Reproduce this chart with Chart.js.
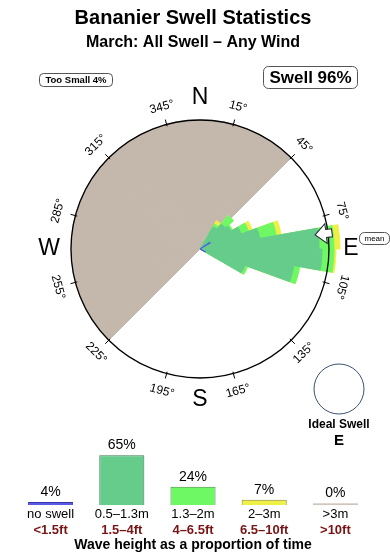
<!DOCTYPE html>
<html>
<head>
<meta charset="utf-8">
<script src="https://cdn.jsdelivr.net/npm/chart.js@4.4.1/dist/chart.umd.min.js"></script>
<style>
  html, body { margin: 0; padding: 0; background: #fff; }
  #wrap { position: relative; width: 390px; height: 560px; }
  #wrap canvas { position: absolute; left: 0; top: 0; }
</style>
</head>
<body>
<div id="wrap">
  <canvas id="roseCanvas" width="390" height="560"></canvas>
  <canvas id="heightCanvas" width="390" height="560"></canvas>
</div>
<script>
var FONT = '"Liberation Sans", Arial, Helvetica, sans-serif';

// swell rose: start bearing of each 10 deg bin, lengths per height band
var binStart   = [30, 40, 50, 60, 70, 80, 90, 100, 110];
var swellSmall = [2.6, 3.3, 3.6, 4.4, 6.1, 12.0, 12.3, 9.6, 4.8]; // 0.5-1.3m
var swellMid   = [0.3, 1.1, 0.2, 0.8, 1.7, 1.5, 1.2, 0.6, 0.3];   // 1.3-2m
var swellBig   = [0.4, 0, 0, 0.4, 0.5, 0.6, 0.2, 0, 0];           // 2-3m
var noSwellStart = [55, 115];
var noSwell      = [1.2, 0.6];
var shadowFrom = 225, shadowTo = 45;   // blocked directions
var roseMax = 13;
var meanDir = 83;

var degreeTicks = [15, 45, 75, 105, 135, 165, 195, 225, 255, 285, 315, 345];
var compassPts = ['N', 'E', 'S', 'W'];
var compassDeg = [0, 90, 180, 270];

// wave height bands
var heightCats = ['no swell', '0.5–1.3m', '1.3–2m', '2–3m', '>3m'];
var heightFeet = ['<1.5ft', '1.5–4ft', '4–6.5ft', '6.5–10ft', '>10ft'];
var heightPct  = [4, 65, 24, 7, 0];

var BLUE = '#5a5ae6', GREEN = '#66cc8c', LGREEN = '#6ef864', YELLOW = '#eef046', GREY = '#c4b8ad';

// build 5 deg bins for the polar area chart
var binDeg = 5, nBins = 360 / binDeg;
var binLabels = [];
for (var i = 0; i < nBins; i++) binLabels.push(i * binDeg + '°');

function spread(starts, values, width) {
  var out = new Array(nBins).fill(0);
  starts.forEach(function (s, k) {
    for (var d = s; d < s + width; d += binDeg) out[(d / binDeg) % nBins] = values[k];
  });
  return out;
}
var cumMid = binStart.map(function (s, k) { return swellSmall[k] + swellMid[k]; });
var cumBig = binStart.map(function (s, k) { return swellSmall[k] + swellMid[k] + swellBig[k]; });
var layerSmall = spread(binStart, swellSmall, 10);
var layerMid = spread(binStart, cumMid, 10);
var layerBig = spread(binStart, cumBig, 10);
var layerNone = spread(noSwellStart, noSwell, 5);
var layerShadow = binLabels.map(function (l, k) {
  var b = k * binDeg;
  return (b >= shadowFrom || b < shadowTo) ? roseMax : 0;
});

function roundBox(ctx, x, y, w, h, rad) {
  ctx.beginPath();
  ctx.roundRect(x, y, w, h, rad);
  ctx.fillStyle = '#fff';
  ctx.fill();
  ctx.strokeStyle = '#555';
  ctx.lineWidth = 1;
  ctx.stroke();
}

var compassPlugin = {
  id: 'compass',
  afterDraw: function (chart) {
    var ctx = chart.ctx, sc = chart.scales.r;
    var cx = sc.xCenter, cy = sc.yCenter, R = sc.drawingArea;
    function at(b, d) {
      var a = b * Math.PI / 180;
      return [cx + d * Math.sin(a), cy - d * Math.cos(a)];
    }
    ctx.save();
    ctx.fillStyle = '#000';
    ctx.strokeStyle = '#000';
    ctx.lineWidth = 1;
    ctx.textAlign = 'center';
    ctx.textBaseline = 'middle';

    degreeTicks.forEach(function (b) {
      var p0 = at(b, R - 2), p1 = at(b, R + 5);
      ctx.beginPath(); ctx.moveTo(p0[0], p0[1]); ctx.lineTo(p1[0], p1[1]); ctx.stroke();
      var rot = b;
      if (b > 120 && b < 270) rot = b - 180; else if (b >= 270) rot = b - 360;
      var p = at(b, R + 18);
      ctx.save();
      ctx.translate(p[0], p[1]);
      ctx.rotate(rot * Math.PI / 180);
      ctx.font = '12px ' + FONT;
      ctx.fillText(b + '°', 0, 0);
      ctx.restore();
    });

    ctx.font = '23px ' + FONT;
    compassPts.forEach(function (t, k) {
      var p = at(compassDeg[k], R + 22);
      ctx.fillText(t, p[0], p[1]);
    });

    // mean direction arrow
    ctx.save();
    ctx.translate(cx, cy);
    ctx.rotate((meanDir - 90) * Math.PI / 180);
    ctx.beginPath();
    ctx.moveTo(R - 13, 0);
    ctx.lineTo(R - 2, -10);
    ctx.lineTo(R - 2, -4);
    ctx.lineTo(R + 4, -4);
    ctx.lineTo(R + 4, 4);
    ctx.lineTo(R - 2, 4);
    ctx.lineTo(R - 2, 10);
    ctx.closePath();
    ctx.fillStyle = '#fff';
    ctx.fill();
    ctx.strokeStyle = '#223';
    ctx.stroke();
    ctx.restore();

    // labels in boxes
    roundBox(ctx, 359.5, 232.5, 30, 12, 5);
    ctx.fillStyle = '#000';
    ctx.font = '8px ' + FONT;
    ctx.fillText('mean', 374.5, 238.8);

    roundBox(ctx, 39.5, 73.5, 73, 13, 4);
    ctx.fillStyle = '#000';
    ctx.font = 'bold 9.5px ' + FONT;
    ctx.fillText('Too Small 4%', 76, 80.5);

    roundBox(ctx, 263.5, 66.5, 94, 22, 5);
    ctx.fillStyle = '#000';
    ctx.font = 'bold 17px ' + FONT;
    ctx.fillText('Swell 96%', 310.5, 78);

    // ideal swell
    ctx.beginPath();
    ctx.arc(339, 389, 25, 0, Math.PI * 2);
    ctx.strokeStyle = '#3c5070';
    ctx.stroke();
    ctx.fillStyle = '#000';
    ctx.font = 'bold 12px ' + FONT;
    ctx.fillText('Ideal Swell', 339, 425);
    ctx.font = 'bold 15px ' + FONT;
    ctx.fillText('E', 339, 441);
    ctx.restore();
  }
};

new Chart(document.getElementById('roseCanvas'), {
  type: 'polarArea',
  data: {
    labels: binLabels,
    datasets: [
      { data: layerNone, backgroundColor: BLUE, borderColor: BLUE, clip: false },
      { data: layerSmall, backgroundColor: GREEN, borderColor: GREEN, clip: false },
      { data: layerMid, backgroundColor: LGREEN, borderColor: LGREEN, clip: false },
      { data: layerBig, backgroundColor: YELLOW, borderColor: YELLOW, clip: false },
      { data: layerShadow, backgroundColor: GREY, borderColor: GREY, clip: false }
    ]
  },
  options: {
    responsive: false,
    animation: false,
    layout: { padding: { left: 71, right: 61, top: 120, bottom: 182 } },
    elements: { arc: { borderWidth: 1 } },
    plugins: { legend: { display: false }, tooltip: { enabled: false } },
    scales: {
      r: {
        min: 0,
        max: roseMax,
        ticks: { display: false, stepSize: roseMax },
        grid: { color: '#000', lineWidth: 1.3, z: 1 },
        angleLines: { display: false },
        pointLabels: { display: false }
      }
    }
  },
  plugins: [compassPlugin]
});

var pctLabels = {
  id: 'pctLabels',
  afterDatasetsDraw: function (chart) {
    var ctx = chart.ctx;
    ctx.save();
    ctx.fillStyle = '#000';
    ctx.font = '14px ' + FONT;
    ctx.textAlign = 'center';
    ctx.textBaseline = 'bottom';
    chart.getDatasetMeta(0).data.forEach(function (bar, k) {
      ctx.fillText(heightPct[k] + '%', bar.x, bar.y - 3);
    });
    ctx.restore();
  }
};

new Chart(document.getElementById('heightCanvas'), {
  type: 'bar',
  data: {
    labels: heightCats,
    datasets: [{
      data: heightPct,
      backgroundColor: [BLUE, GREEN, LGREEN, YELLOW, GREY],
      borderColor: ['#3434a8', '#3d7a52', '#3f8f3a', '#8a8a30', GREY],
      borderWidth: 1,
      minBarLength: 2,
      barPercentage: 0.633,
      categoryPercentage: 1
    }]
  },
  options: {
    responsive: false,
    animation: false,
    layout: { padding: { left: 15, right: 19, top: 0, bottom: 6 } },
    plugins: {
      legend: { display: false },
      tooltip: { enabled: false },
      title: {
        display: true,
        text: 'Bananier Swell Statistics',
        color: '#000',
        font: { family: FONT, size: 20, weight: 'bold' },
        padding: { top: 6, bottom: 3 }
      },
      subtitle: {
        display: true,
        text: 'March: All Swell – Any Wind',
        color: '#000',
        font: { family: FONT, size: 16, weight: 'bold' },
        padding: { top: 0, bottom: 376 }
      }
    },
    scales: {
      y: { display: false, min: 0, max: 100 },
      x: {
        grid: { display: false, drawTicks: false },
        border: { display: false },
        ticks: { color: '#000', padding: 3, maxRotation: 0, autoSkip: false,
                 font: { family: FONT, size: 13, lineHeight: 1 } }
      },
      x2: {
        type: 'category',
        labels: heightFeet,
        position: 'bottom',
        grid: { display: false, drawTicks: false },
        border: { display: false },
        ticks: { color: '#7a1414', padding: 0, maxRotation: 0, autoSkip: false,
                 font: { family: FONT, size: 13, weight: 'bold', lineHeight: 1 } },
        title: {
          display: true,
          text: 'Wave height as a proportion of time',
          color: '#000',
          font: { family: FONT, size: 14, weight: 'bold' },
          padding: { top: 0, bottom: 0 }
        }
      }
    }
  },
  plugins: [pctLabels]
});
</script>
</body>
</html>
